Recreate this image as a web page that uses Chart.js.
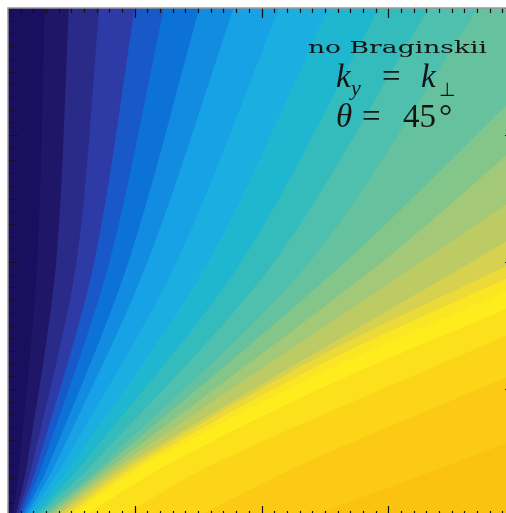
<!DOCTYPE html>
<html>
<head>
<meta charset="utf-8">
<script src="https://cdn.jsdelivr.net/npm/chart.js@4.4.1/dist/chart.umd.min.js"></script>
<style>
  html, body { margin: 0; padding: 0; background: #fff; overflow: hidden; }
  #wrap { position: absolute; left: 0; top: 0; width: 530px; height: 530px; }
</style>
</head>
<body>
<div id="wrap"><canvas id="growth" width="530" height="530"></canvas></div>
<script>
// ───────────────────────── AXES ─────────────────────────
const xRange     = [0, 4];
const yRange     = [0, 4];
const majorTicks = [0, 1, 2, 3, 4];
const minorStep  = 0.1;

// ───────────────────────── CONTOUR LEVELS ─────────────────────────
// band colours, lowest level first (band 0 is the background)
const levelColors = [
    "#180f5e", "#201668", "#2a2a88", "#2e3aa6", "#1858c8", "#0c72d8",
    "#118ce0", "#17a2e6", "#1aafe0", "#1fb7cf", "#34bcbd", "#4fbfae",
    "#66c29e", "#84c58a", "#a2c878", "#bdcb64", "#d6d14e", "#ecda38",
    "#fbe624", "#feec1c", "#fde01c", "#fcd418", "#fcca14", "#fbc210"
];

// each contour line k separates band k-1 (left/above) from band k (right/below)
// where it leaves the bottom edge (y = 0)
const startX = [0.035, 0.06, 0.075, 0.09, 0.105, 0.12, 0.14, 0.16, 0.185, 0.21, 0.23, 0.26,
                0.29, 0.32, 0.35, 0.38, 0.42, 0.46, 0.5, 0.6, 0.9, 1.5, 2.4];
// where it crosses y = 0.4
const lowX   = [0.09, 0.15, 0.19, 0.23, 0.27, 0.32, 0.37, 0.43, 0.5, 0.58, 0.66, 0.74,
                0.78, 0.83, 0.88, 0.93, 0.98, 1.03, 1.08, 1.25, 1.6, 2.3, 3.47];
// where it crosses y = 2
const midX   = [0.23, 0.38, 0.54, 0.68, 0.8, 0.95, 1.1, 1.33, 1.58, 1.84, 2.1, 2.38,
                2.66, 2.95, null, null, null, null, null, null, null, null, null];
// where it crosses x = 2.5
const colY   = [null, null, null, null, null, null, null, null, null, null, null, null,
                null, null, null, null, 1.28, 1.21, 1.14, 1.02, null, null, null];
// exit through the top edge (y = 4) ...
const topX   = [0.29, 0.48, 0.72, 1.0, 1.23, 1.51, 1.78, 2.14, 2.53, 2.93, 3.32, 3.71,
                null, null, null, null, null, null, null, null, null, null, null];
// ... or through the right edge (x = 4)
const rightY = [null, null, null, null, null, null, null, null, null, null, null, null,
                3.3, 2.9, 2.5, 2.2, 2.0, 1.9, 1.8, 1.66, 1.45, 1.12, 0.6];

// ───────────────────────── LABELS ─────────────────────────
const caption = "no Braginskii";

// ───────────────────────── BUILD FILLED BANDS ─────────────────────────
function contourPoints(k) {
    const pts = [{ x: startX[k], y: 0 }, { x: lowX[k], y: 0.4 }];
    if (midX[k] !== null)   pts.push({ x: midX[k], y: 2 });
    if (colY[k] !== null)   pts.push({ x: 2.5, y: colY[k] });
    if (topX[k] !== null)   pts.push({ x: topX[k], y: 4 });
    if (rightY[k] !== null) pts.push({ x: 4, y: rightY[k] });
    return pts;
}

// region right of / below contour k; the polygon is closed well outside the
// plot (clipped away), continuing the last segment so the curve stays smooth
const datasets = startX.map((_, k) => {
    const pts  = contourPoints(k);
    const end  = pts[pts.length - 1];
    const prev = pts[pts.length - 2];
    const beyond = { x: 2 * end.x - prev.x, y: 2 * end.y - prev.y };
    return {
        data: [...pts, beyond, { x: 7, y: 7 }, { x: 7, y: -1 }, { x: pts[0].x, y: -1 }],
        showLine:         true,
        fill:             "shape",
        backgroundColor:  levelColors[k + 1],
        borderColor:      "transparent",
        borderWidth:      0,
        pointRadius:      0,
        tension:          0.3,
        capBezierPoints:  false,
        order:            -(k + 1)   // lowest band painted first
    };
});

// ───────────────────────── PLUGINS ─────────────────────────
const background = {
    id: "background",
    beforeDatasetsDraw(chart) {
        const { ctx, chartArea: a } = chart;
        ctx.save();
        ctx.fillStyle = levelColors[0];
        ctx.fillRect(a.left, a.top, a.right - a.left, a.bottom - a.top);
        ctx.restore();
    }
};

const frame = {
    id: "frame",
    afterDatasetsDraw(chart) {
        const { ctx, chartArea: a, scales: { x, y } } = chart;
        ctx.save();

        // inward tick marks on all four sides
        ctx.strokeStyle = "#111";
        ctx.lineWidth   = 1.2;
        ctx.beginPath();
        for (let i = 0; i <= Math.round((xRange[1] - xRange[0]) / minorStep); i++) {
            const v   = xRange[0] + i * minorStep;
            const len = majorTicks.some(m => Math.abs(m - v) < 1e-6) ? 10 : 5;
            const px  = Math.round(x.getPixelForValue(v)) + 0.5;
            ctx.moveTo(px, a.top);    ctx.lineTo(px, a.top + len);
            ctx.moveTo(px, a.bottom); ctx.lineTo(px, a.bottom - len);
        }
        for (let i = 0; i <= Math.round((yRange[1] - yRange[0]) / minorStep); i++) {
            const v   = yRange[0] + i * minorStep;
            const len = majorTicks.some(m => Math.abs(m - v) < 1e-6) ? 10 : 5;
            const py  = Math.round(y.getPixelForValue(v)) + 0.5;
            ctx.moveTo(a.left, py);  ctx.lineTo(a.left + len, py);
            ctx.moveTo(a.right, py); ctx.lineTo(a.right - len, py);
        }
        ctx.stroke();

        // axes box
        ctx.strokeStyle = "#9a9a9a";
        ctx.lineWidth   = 1.5;
        ctx.strokeRect(a.left, a.top, a.right - a.left, a.bottom - a.top);

        // annotation, top right
        ctx.fillStyle    = "#141414";
        ctx.textBaseline = "alphabetic";

        ctx.font = '17px "DejaVu Serif"';
        const w  = ctx.measureText(caption).width;
        ctx.save();
        ctx.translate(308, 53);
        ctx.scale(179 / w, 1);
        ctx.fillText(caption, 0, 0);
        ctx.restore();

        const it  = 'italic 33px "Liberation Serif"';
        const rm  = '33px "Liberation Serif"';
        const sub = 'italic 22px "Liberation Serif"';
        const pieces = [
            ["k",  it,  336, 87], ["y", sub, 351, 95], ["=", rm, 382, 87],
            ["k",  it,  421, 87], ["\u22A5", '19px "DejaVu Sans"', 439, 96],
            ["\u03B8", it, 336, 127], ["=", rm, 362, 127],
            ["45", rm, 403, 127], ["\u00B0", rm, 439, 127]
        ];
        pieces.forEach(([t, f, px, py]) => { ctx.font = f; ctx.fillText(t, px, py); });

        ctx.restore();
    }
};

// ───────────────────────── CHART ─────────────────────────
new Chart(document.getElementById("growth"), {
    type: "scatter",
    data: { datasets },
    options: {
        responsive: false,
        animation:  false,
        events:     [],
        layout: { padding: { left: 8, top: 8, right: 15, bottom: 14 } },
        scales: {
            x: { type: "linear", min: xRange[0], max: xRange[1], display: false },
            y: { type: "linear", min: yRange[0], max: yRange[1], display: false }
        },
        plugins: {
            legend:  { display: false },
            tooltip: { enabled: false }
        }
    },
    plugins: [background, frame]
});
</script>
</body>
</html>
